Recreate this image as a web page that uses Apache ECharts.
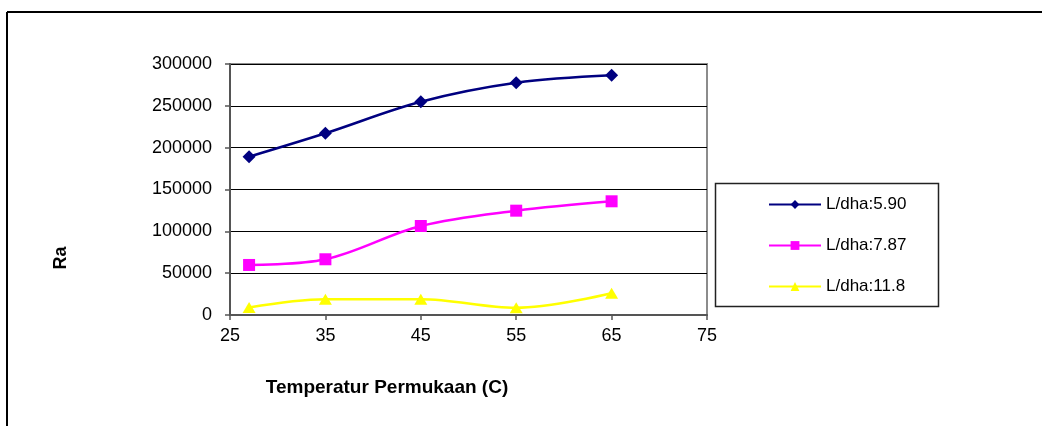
<!DOCTYPE html>
<html>
<head>
<meta charset="utf-8">
<script src="https://cdn.jsdelivr.net/npm/echarts@6/dist/echarts.min.js"></script>
<style>
  html, body { margin: 0; padding: 0; background: #ffffff; }
  #chart { width: 1042px; height: 426px; }
</style>
</head>
<body>
<div id="chart"></div>
<script>
// Surface temperature (C) and Rayleigh number for three L/dha ratios
const temperatures = [27, 35, 45, 55, 65];
const raLdha590 = [189200, 217200, 254900, 277600, 286500];
const raLdha787 = [59800, 66600, 106400, 124700, 135900];
const raLdha118 = [9000, 18900, 18900, 8600, 25900];

const xTicks = { min: 25, max: 75, interval: 10 };
const yTicks = { min: 0, max: 300000, interval: 50000 };

const seriesNames = ['L/dha:5.90', 'L/dha:7.87', 'L/dha:11.8'];
const xTitle = 'Temperatur Permukaan (C)';
const yTitle = 'Ra';

const FONT = '"Liberation Sans", Arial, sans-serif';

function pairs(ys) {
  return temperatures.map((t, i) => [t, ys[i]]);
}

const chart = echarts.init(document.getElementById('chart'), null, { renderer: 'canvas' });

chart.setOption({
  animation: false,
  backgroundColor: '#ffffff',
  grid: {
    left: 230, top: 64, right: 335, bottom: 111,
    show: true, borderColor: '#8c8c8c', borderWidth: 2, backgroundColor: 'transparent'
  },
  xAxis: {
    type: 'value',
    min: xTicks.min, max: xTicks.max, interval: xTicks.interval,
    axisLine: { show: true, onZero: false, lineStyle: { color: '#555555', width: 2 } },
    axisTick: { show: true, length: 5, lineStyle: { color: '#555555', width: 1.5 } },
    axisLabel: { color: '#000000', fontFamily: FONT, fontSize: 18, margin: 12 },
    splitLine: { show: false }
  },
  yAxis: {
    type: 'value',
    min: yTicks.min, max: yTicks.max, interval: yTicks.interval,
    axisLine: { show: true, lineStyle: { color: '#555555', width: 2 } },
    axisTick: { show: true, length: 5, lineStyle: { color: '#555555', width: 1.5 } },
    axisLabel: {
      color: '#000000', fontFamily: FONT, fontSize: 18, margin: 18,
      formatter: (v) => String(v)
    },
    splitLine: { show: true, lineStyle: { color: '#000000', width: 1 } }
  },
  legend: {
    orient: 'vertical',
    left: 768, top: 196, padding: 0,
    itemWidth: 52, itemHeight: 11, itemGap: 24,
    textStyle: { color: '#000000', fontFamily: FONT, fontSize: 17 },
    data: seriesNames
  },
  graphic: [
    // outer frame (top and left edges)
    { type: 'line', shape: { x1: 7, y1: 12, x2: 1042, y2: 12 }, style: { stroke: '#000000', lineWidth: 2 } },
    { type: 'line', shape: { x1: 7, y1: 12, x2: 7, y2: 426 }, style: { stroke: '#000000', lineWidth: 2 } },
    // legend box
    { type: 'rect', shape: { x: 715.5, y: 183.5, width: 223, height: 123 }, style: { fill: 'none', stroke: '#222222', lineWidth: 1.5 }, z: 0 },
    // axis titles
    { type: 'text', x: 387, y: 388, style: { text: xTitle, fontFamily: FONT, fontSize: 19, fontWeight: 'bold', fill: '#000000', align: 'center', verticalAlign: 'middle' } },
    { type: 'text', x: 61, y: 258, rotation: Math.PI / 2, style: { text: yTitle, fontFamily: FONT, fontSize: 18, fontWeight: 'bold', fill: '#000000', align: 'center', verticalAlign: 'middle' } }
  ],
  series: [
    {
      name: seriesNames[0], type: 'line', data: pairs(raLdha590), smooth: 0.35,
      symbol: 'diamond', symbolSize: 13,
      lineStyle: { color: '#000080', width: 2.5 },
      itemStyle: { color: '#000080' }
    },
    {
      name: seriesNames[1], type: 'line', data: pairs(raLdha787), smooth: 0.35,
      symbol: 'rect', symbolSize: 12,
      lineStyle: { color: '#ff00ff', width: 2.5 },
      itemStyle: { color: '#ff00ff' }
    },
    {
      name: seriesNames[2], type: 'line', data: pairs(raLdha118), smooth: 0.35,
      symbol: 'triangle', symbolSize: [13, 11],
      lineStyle: { color: '#ffff00', width: 2.5 },
      itemStyle: { color: '#ffff00' }
    }
  ]
});
</script>
</body>
</html>
